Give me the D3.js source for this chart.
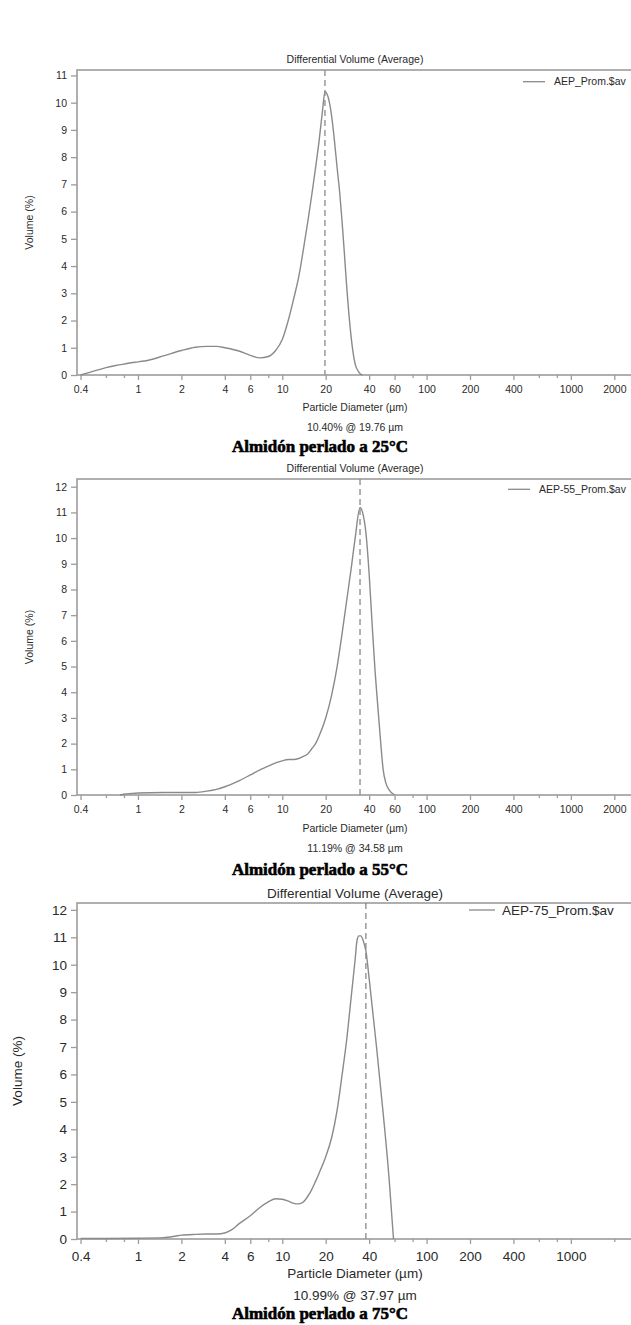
<!DOCTYPE html>
<html>
<head>
<meta charset="utf-8">
<script src="https://cdn.jsdelivr.net/npm/d3@7"></script>
<style>
  body { margin: 0; background: #fff; }
  svg { display: block; }
  text { font-family: Arial, "Liberation Sans", sans-serif; fill: #2a2a2a; }
</style>
</head>
<body>
<div id="chart"></div>
<script>
// particle diameter (µm) and differential volume (%) per sample
const diam25 = [0.4, 0.45, 0.5, 0.6, 0.7, 0.8, 0.9, 1, 1.2, 1.5, 2, 2.5, 3, 3.5, 4, 5, 6, 7, 8, 9, 10, 11, 12, 13, 14, 15, 16, 17, 18, 19, 19.76, 20.5, 22, 23, 24, 25, 26, 27, 28, 29, 30, 31, 32, 34, 36];
const vol25  = [0, 0.08, 0.15, 0.27, 0.35, 0.4, 0.45, 0.48, 0.55, 0.7, 0.9, 1.02, 1.05, 1.05, 1.0, 0.88, 0.72, 0.63, 0.68, 0.9, 1.3, 2.0, 2.8, 3.6, 4.6, 5.6, 6.6, 7.6, 8.6, 9.7, 10.4, 10.3, 9.5, 8.6, 7.6, 6.7, 5.6, 4.4, 3.2, 2.2, 1.4, 0.8, 0.4, 0.1, 0];

const diam55 = [0.75, 0.8, 0.9, 1, 1.5, 2, 2.5, 3, 3.5, 4, 5, 6, 7, 8, 9, 10, 11, 12, 13, 14, 15, 16, 17, 18, 20, 22, 24, 26, 28, 30, 32, 34.58, 36, 38, 40, 42, 44, 46, 48, 50, 52, 55, 60];
const vol55  = [0, 0.03, 0.06, 0.08, 0.1, 0.1, 0.1, 0.15, 0.22, 0.32, 0.55, 0.78, 0.98, 1.12, 1.25, 1.33, 1.38, 1.38, 1.42, 1.5, 1.6, 1.8, 2.0, 2.3, 3.0, 3.9, 5.0, 6.3, 7.6, 8.8, 10.0, 11.19, 11.0, 10.2, 8.6, 6.6, 4.8, 3.4, 2.1, 1.0, 0.5, 0.2, 0];

const diam75 = [0.4, 0.6, 1, 1.5, 1.8, 2, 2.5, 3, 3.5, 4, 4.5, 5, 6, 7, 8, 9, 10, 11, 12, 13, 14, 15, 16, 17, 18, 20, 22, 24, 26, 28, 30, 32, 33, 34, 35, 36, 37, 38, 40, 45, 50, 55, 59];
const vol75  = [0.02, 0.02, 0.03, 0.05, 0.1, 0.14, 0.17, 0.18, 0.18, 0.22, 0.35, 0.55, 0.85, 1.15, 1.35, 1.47, 1.45, 1.38, 1.3, 1.28, 1.35, 1.55, 1.8, 2.1, 2.4, 3.0, 3.7, 4.7, 6.0, 7.3, 8.8, 10.2, 10.9, 11.05, 11.05, 10.95, 10.75, 10.5, 9.5, 7.0, 4.6, 2.2, 0];

// reported mode of each distribution: [volume %, diameter µm]
const peak25 = [10.40, 19.76];
const peak55 = [11.19, 34.58];
const peak75 = [10.99, 37.97];

// tick labels
const yTicks25 = [0, 1, 2, 3, 4, 5, 6, 7, 8, 9, 10, 11];
const yTicks55 = [0, 1, 2, 3, 4, 5, 6, 7, 8, 9, 10, 11, 12];
const yTicks75 = [0, 1, 2, 3, 4, 5, 6, 7, 8, 9, 10, 11, 12];
const xTicksAB = [0.4, 1, 2, 4, 6, 10, 20, 40, 60, 100, 200, 400, 1000, 2000];
const xMinorAB = [0.6, 0.8, 8, 80, 600, 800];
const xTicksC  = [0.4, 1, 2, 4, 6, 10, 20, 40, 100, 200, 400, 1000];
const xMinorC  = [0.6, 0.8, 8, 60, 80, 600, 800, 2000];

const legendNames = ["AEP_Prom.$av", "AEP-55_Prom.$av", "AEP-75_Prom.$av"];
const captions = ["Almidón perlado a 25°C", "Almidón perlado a 55°C", "Almidón perlado a 75°C"];

const W = 631, H = 1325;
const axisGray = "#9c9c9c";
const lineGray = "#8a8a8a";

const svg = d3.select("#chart").append("svg")
    .attr("width", W)
    .attr("height", H);

const panels = [
  {diam: diam25, vol: vol25, peak: peak25, yTicks: yTicks25, xTicks: xTicksAB, xMinor: xMinorAB,
   top: 70, bottom: 375, yMax: 11.2, fs: 10.5, title: 59, legY: 81.7, legX: 523, legLen: 22,
   xLab: 407, pct: 427, cap: 446, yLabX: 29},
  {diam: diam55, vol: vol55, peak: peak55, yTicks: yTicks55, xTicks: xTicksAB, xMinor: xMinorAB,
   top: 479, bottom: 795, yMax: 12.3, fs: 10.5, title: 468, legY: 489.3, legX: 508, legLen: 22,
   xLab: 828, pct: 848, cap: 869, yLabX: 29},
  {diam: diam75, vol: vol75, peak: peak75, yTicks: yTicks75, xTicks: xTicksC, xMinor: xMinorC,
   top: 903, bottom: 1239, yMax: 12.25, fs: 13.5, title: 893, legY: 910, legX: 469, legLen: 26,
   xLab: 1273, pct: 1295, cap: 1313, yLabX: 17}
];

const left = 77;
const pxPerDecade = 144.3;
const xMin = 0.378, xMax = 3000;

panels.forEach((p, i) => {
  const x = d3.scaleLog()
      .domain([xMin, xMax])
      .range([left, left + pxPerDecade * Math.log10(xMax / xMin)]);

  const y = d3.scaleLinear()
      .domain([0, p.yMax])
      .range([p.bottom, p.top]);

  const g = svg.append("g");

  // plot frame
  g.append("rect")
      .attr("x", left)
      .attr("y", p.top)
      .attr("width", 700)
      .attr("height", p.bottom - p.top)
      .attr("fill", "none")
      .attr("stroke", axisGray)
      .attr("stroke-width", 1.6);

  const pad = i === 2 ? 7 : 6;

  const xAxis = g.append("g")
      .attr("transform", `translate(0,${p.bottom})`)
      .call(d3.axisBottom(x).tickValues(p.xTicks).tickFormat(d => String(d)).tickSize(5).tickPadding(pad));

  const xMinorAxis = g.append("g")
      .attr("transform", `translate(0,${p.bottom})`)
      .call(d3.axisBottom(x).tickValues(p.xMinor).tickFormat("").tickSize(3));

  const yAxis = g.append("g")
      .attr("transform", `translate(${left},0)`)
      .call(d3.axisLeft(y).tickValues(p.yTicks).tickSize(6).tickPadding(4));

  [xAxis, xMinorAxis, yAxis].forEach(a => {
    a.select(".domain").remove();
    a.selectAll("line").attr("stroke", axisGray).attr("stroke-width", 1.3);
    a.selectAll("text")
        .attr("font-size", p.fs)
        .attr("fill", "#2a2a2a");
  });

  // dashed marker at the mode
  g.append("line")
      .attr("x1", x(p.peak[1]))
      .attr("x2", x(p.peak[1]))
      .attr("y1", p.top)
      .attr("y2", p.bottom)
      .attr("stroke", lineGray)
      .attr("stroke-width", 1.3)
      .attr("stroke-dasharray", "6,4");

  const line = d3.line()
      .x((d, j) => x(p.diam[j]))
      .y(d => y(d))
      .curve(d3.curveMonotoneX);

  g.append("path")
      .datum(p.vol)
      .attr("d", line)
      .attr("fill", "none")
      .attr("stroke", lineGray)
      .attr("stroke-width", 1.4);

  // texts
  g.append("text")
      .attr("x", 355)
      .attr("y", p.title)
      .attr("dy", "0.35em")
      .attr("text-anchor", "middle")
      .attr("font-size", p.fs)
      .text("Differential Volume (Average)");

  g.append("line")
      .attr("x1", p.legX)
      .attr("x2", p.legX + p.legLen)
      .attr("y1", p.legY)
      .attr("y2", p.legY)
      .attr("stroke", lineGray)
      .attr("stroke-width", 1.3);

  g.append("text")
      .attr("x", p.legX + p.legLen + (i === 2 ? 7 : 9))
      .attr("y", p.legY)
      .attr("dy", "0.35em")
      .attr("font-size", p.fs)
      .text(legendNames[i]);

  g.append("text")
      .attr("transform", `translate(${p.yLabX},${(p.top + p.bottom) / 2}) rotate(-90)`)
      .attr("dy", "0.35em")
      .attr("text-anchor", "middle")
      .attr("font-size", p.fs)
      .text("Volume (%)");

  g.append("text")
      .attr("x", 355)
      .attr("y", p.xLab)
      .attr("dy", "0.35em")
      .attr("text-anchor", "middle")
      .attr("font-size", p.fs)
      .text("Particle Diameter (µm)");

  g.append("text")
      .attr("x", 355)
      .attr("y", p.pct)
      .attr("dy", "0.35em")
      .attr("text-anchor", "middle")
      .attr("font-size", p.fs)
      .text(`${p.peak[0].toFixed(2)}% @ ${p.peak[1].toFixed(2)} µm`);

  g.append("text")
      .attr("x", 320)
      .attr("y", p.cap)
      .attr("dy", "0.35em")
      .attr("text-anchor", "middle")
      .style("font-family", "'Liberation Serif', 'DejaVu Serif', serif")
      .style("font-weight", "bold")
      .style("font-size", "17px")
      .style("fill", "#000")
      .attr("textLength", 176)
      .attr("lengthAdjust", "spacingAndGlyphs")
      .attr("stroke", "#000")
      .attr("stroke-width", 0.6)
      .text(captions[i]);
});
</script>
</body>
</html>
